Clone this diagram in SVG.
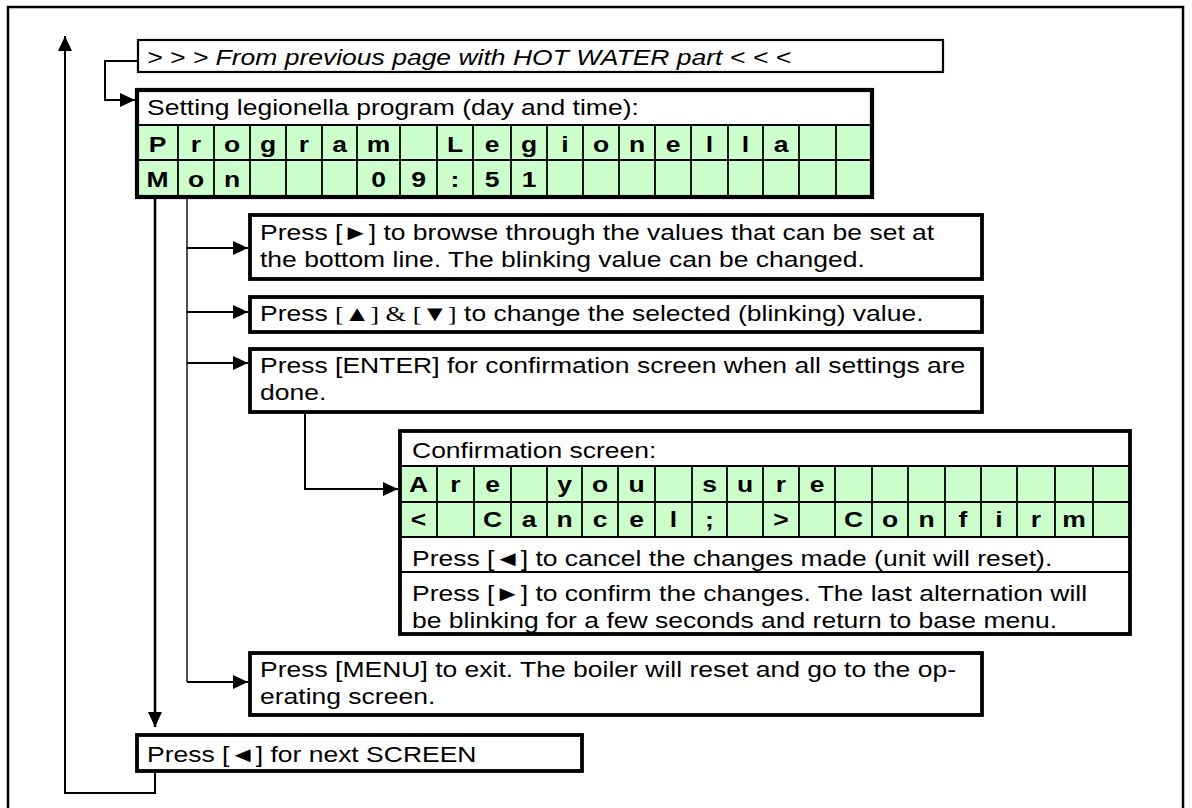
<svg xmlns="http://www.w3.org/2000/svg" width="1192" height="808" viewBox="0 0 1192 808">
<style>
.frame{fill:none;stroke:#000;stroke-width:2.5}
.box{fill:#fff;stroke:#000;stroke-width:3.8}
.thinbox{fill:#fff;stroke:#000;stroke-width:2.2}
.lcdout{fill:none;stroke:#000;stroke-width:4.2}
.cbox{fill:none;stroke:#000;stroke-width:3.8}
.green{fill:#ccffcc}
.white{fill:#fff}
.grid{stroke:#000;stroke-width:1.8;fill:none}
.t{font-family:"Liberation Sans",Arial,sans-serif;font-size:22px;fill:#000}
.i{font-style:italic}
.b{font-weight:bold;text-anchor:middle}
.serif{font-family:"Liberation Serif","Times New Roman",serif}
.c{fill:none;stroke:#000;stroke-width:2}
.ct{fill:none;stroke:#000;stroke-width:1.4}
.ck{fill:none;stroke:#000;stroke-width:2.6}
</style>
<defs>
<marker id="ah" markerUnits="userSpaceOnUse" markerWidth="15" markerHeight="14" refX="15" refY="7" orient="auto">
<path d="M0,0 L15,7 L0,14 z" fill="#000"/>
</marker>
</defs>
<rect class="frame" x="8" y="7" width="1175" height="815"/>

<g id="connectors">
<path class="c" d="M138,61 H105 V100 H135" marker-end="url(#ah)"/>
<path class="c" d="M155,770 V793 H65 V36" marker-end="url(#ah)"/>
<path class="ck" d="M155,199 V727" marker-end="url(#ah)"/>
<path class="ct" d="M187,199 V682"/>
<path class="c" d="M187,248 H248" marker-end="url(#ah)"/>
<path class="c" d="M187,312 H248" marker-end="url(#ah)"/>
<path class="c" d="M187,363 H248" marker-end="url(#ah)"/>
<path class="c" d="M187,682 H248" marker-end="url(#ah)"/>
<path class="c" d="M305,414 V489 H398" marker-end="url(#ah)"/>
</g>

<g id="from-previous">
<rect class="thinbox" x="138" y="40" width="805" height="32"/>
<text class="t i" transform="translate(147,65) scale(1.205,1)">&gt; &gt; &gt; From previous page with HOT WATER part &lt; &lt; &lt;</text>
</g>

<g id="lcd-legionella">
<rect class="white" x="137" y="90" width="735" height="35"/>
<rect class="green" x="137" y="125" width="735" height="72"/>
<path class="grid" d="M137,125 H872 M137,160 H872 M178,125 V197 M214,125 V197 M250,125 V197 M286,125 V197 M322,125 V197 M357,125 V197 M400,125 V197 M437,125 V197 M473,125 V197 M511,125 V197 M547,125 V197 M583,125 V197 M619,125 V197 M655,125 V197 M691,125 V197 M728,125 V197 M763,125 V197 M799,125 V197 M836,125 V197"/>
<rect class="lcdout" x="137" y="90" width="735" height="107"/>
<text class="t" transform="translate(147,115) scale(1.205,1)">Setting legionella program (day and time):</text>
<g class="t b">
<text transform="translate(157.5,152) scale(1.205,1)">P</text>
<text transform="translate(196,152) scale(1.205,1)">r</text>
<text transform="translate(232,152) scale(1.205,1)">o</text>
<text transform="translate(268,152) scale(1.205,1)">g</text>
<text transform="translate(304,152) scale(1.205,1)">r</text>
<text transform="translate(339.5,152) scale(1.205,1)">a</text>
<text transform="translate(378.5,152) scale(1.205,1)">m</text>
<text transform="translate(455,152) scale(1.205,1)">L</text>
<text transform="translate(492,152) scale(1.205,1)">e</text>
<text transform="translate(529,152) scale(1.205,1)">g</text>
<text transform="translate(565,152) scale(1.205,1)">i</text>
<text transform="translate(601,152) scale(1.205,1)">o</text>
<text transform="translate(637,152) scale(1.205,1)">n</text>
<text transform="translate(673,152) scale(1.205,1)">e</text>
<text transform="translate(709.5,152) scale(1.205,1)">l</text>
<text transform="translate(745.5,152) scale(1.205,1)">l</text>
<text transform="translate(781,152) scale(1.205,1)">a</text>
<text transform="translate(157.5,187) scale(1.205,1)">M</text>
<text transform="translate(196,187) scale(1.205,1)">o</text>
<text transform="translate(232,187) scale(1.205,1)">n</text>
<text transform="translate(378.5,187) scale(1.205,1)">0</text>
<text transform="translate(418.5,187) scale(1.205,1)">9</text>
<text transform="translate(455,187) scale(1.205,1)">:</text>
<text transform="translate(492,187) scale(1.205,1)">5</text>
<text transform="translate(529,187) scale(1.205,1)">1</text>
</g>
</g>

<g id="press-right">
<rect class="box" x="250" y="215" width="732" height="64"/>
<text class="t" transform="translate(260,240) scale(1.205,1)">Press [►] to browse through the values that can be set at</text>
<text class="t" transform="translate(260,267) scale(1.205,1)">the bottom line. The blinking value can be changed.</text>
</g>

<g id="press-updown">
<rect class="box" x="250" y="297" width="732" height="35"/>
<text class="t" transform="translate(260,321) scale(1.205,1)">Press <tspan class="serif">[▲] &amp; [▼]</tspan> to change the selected (blinking) value.</text>
</g>

<g id="press-enter">
<rect class="box" x="250" y="349" width="732" height="63"/>
<text class="t" transform="translate(260,373) scale(1.205,1)">Press [ENTER] for confirmation screen when all settings are</text>
<text class="t" transform="translate(260,400) scale(1.205,1)">done.</text>
</g>

<g id="confirmation">
<rect class="white" x="400" y="431" width="730" height="35"/>
<rect class="green" x="400" y="466" width="730" height="71"/>
<rect class="white" x="400" y="537" width="730" height="97"/>
<path class="grid" d="M400,466 H1130 M400,502 H1130 M400,537 H1130 M400,572 H1130 M437,466 V537 M474,466 V537 M511,466 V537 M547,466 V537 M582,466 V537 M618,466 V537 M655,466 V537 M692,466 V537 M727,466 V537 M763,466 V537 M799,466 V537 M835,466 V537 M872,466 V537 M908,466 V537 M945,466 V537 M981,466 V537 M1017,466 V537 M1055,466 V537 M1093,466 V537"/>
<rect class="cbox" x="400" y="431" width="730" height="203"/>
<text class="t" transform="translate(412,458) scale(1.205,1)">Confirmation screen:</text>
<g class="t b">
<text transform="translate(418.5,492) scale(1.205,1)">A</text>
<text transform="translate(455.5,492) scale(1.205,1)">r</text>
<text transform="translate(492.5,492) scale(1.205,1)">e</text>
<text transform="translate(564.5,492) scale(1.205,1)">y</text>
<text transform="translate(600,492) scale(1.205,1)">o</text>
<text transform="translate(636.5,492) scale(1.205,1)">u</text>
<text transform="translate(709.5,492) scale(1.205,1)">s</text>
<text transform="translate(745,492) scale(1.205,1)">u</text>
<text transform="translate(781,492) scale(1.205,1)">r</text>
<text transform="translate(817,492) scale(1.205,1)">e</text>
<text transform="translate(418.5,527) scale(1.205,1)">&lt;</text>
<text transform="translate(492.5,527) scale(1.205,1)">C</text>
<text transform="translate(529,527) scale(1.205,1)">a</text>
<text transform="translate(564.5,527) scale(1.205,1)">n</text>
<text transform="translate(600,527) scale(1.205,1)">c</text>
<text transform="translate(636.5,527) scale(1.205,1)">e</text>
<text transform="translate(673.5,527) scale(1.205,1)">l</text>
<text transform="translate(709.5,527) scale(1.205,1)">;</text>
<text transform="translate(781,527) scale(1.205,1)">&gt;</text>
<text transform="translate(853.5,527) scale(1.205,1)">C</text>
<text transform="translate(890,527) scale(1.205,1)">o</text>
<text transform="translate(926.5,527) scale(1.205,1)">n</text>
<text transform="translate(963,527) scale(1.205,1)">f</text>
<text transform="translate(999,527) scale(1.205,1)">i</text>
<text transform="translate(1036,527) scale(1.205,1)">r</text>
<text transform="translate(1074,527) scale(1.205,1)">m</text>
</g>
<text class="t" transform="translate(412,566) scale(1.205,1)">Press [◄] to cancel the changes made (unit will reset).</text>
<text class="t" transform="translate(412,601) scale(1.205,1)">Press [►] to confirm the changes. The last alternation will</text>
<text class="t" transform="translate(412,628) scale(1.205,1)">be blinking for a few seconds and return to base menu.</text>
</g>

<g id="press-menu">
<rect class="box" x="250" y="653" width="732" height="62"/>
<text class="t" transform="translate(260,677) scale(1.205,1)">Press [MENU] to exit. The boiler will reset and go to the op-</text>
<text class="t" transform="translate(260,704) scale(1.205,1)">erating screen.</text>
</g>

<g id="next-screen">
<rect class="box" x="137" y="735" width="445" height="36"/>
<text class="t" transform="translate(147,762) scale(1.205,1)">Press [◄] for next SCREEN</text>
</g>
</svg>
